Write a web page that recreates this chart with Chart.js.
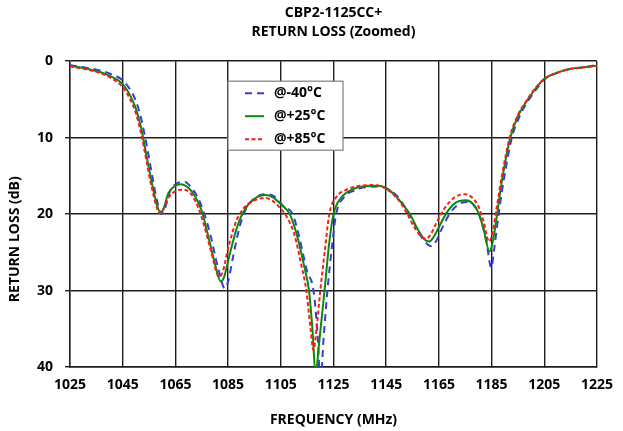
<!DOCTYPE html>
<html>
<head>
<meta charset="utf-8">
<script src="https://cdn.jsdelivr.net/npm/chart.js@4"></script>
<style>
  body { margin: 0; background: #fff; }
  #wrap { width: 623px; height: 431px; }
</style>
</head>
<body>
<div id="wrap"><canvas id="rlChart" width="623" height="431"></canvas></div>
<script>
        // -40°C
        const freqM40 = [1025, 1030, 1035, 1040, 1045, 1048, 1050, 1052, 1054, 1056, 1058, 1059.7, 1061, 1063, 1065.5, 1068.5, 1071, 1073.5, 1076, 1078.5, 1081, 1083.8, 1085, 1087, 1089.5, 1092, 1096, 1099.7, 1103, 1106, 1109.5, 1112, 1115, 1117.4, 1119, 1120, 1121.3, 1122.7, 1124.5, 1126, 1129, 1133, 1137, 1142.3, 1146, 1149, 1152, 1155, 1158, 1160.5, 1162.2, 1164, 1166, 1169, 1172.5, 1176.5, 1179, 1181, 1183, 1184.9, 1186, 1187.7, 1189.5, 1192.7, 1195.5, 1198.5, 1201.5, 1205, 1210, 1215, 1220, 1225];
        const lossM40 = [0.5, 0.8, 1.1, 1.6, 2.5, 3.8, 5.2, 7.5, 10.8, 14.6, 18.2, 20.0, 19.3, 17.0, 16.0, 15.8, 16.5, 17.8, 20.0, 23.0, 26.8, 29.7, 28.8, 25.4, 21.5, 19.2, 17.7, 17.4, 17.8, 19.0, 20.0, 23.0, 27.5, 30.0, 36.0, 42.0, 36.0, 30.0, 24.0, 20.0, 17.8, 16.9, 16.5, 16.4, 16.8, 17.6, 19.0, 20.8, 22.8, 23.9, 24.2, 23.5, 22.0, 20.0, 18.7, 18.4, 19.2, 20.8, 23.6, 27.0, 24.5, 20.0, 15.8, 10.0, 7.3, 5.4, 3.9, 2.4, 1.5, 1.0, 0.8, 0.5];

        // +25°C
        const freqP25 = [1025, 1030, 1035, 1040, 1045, 1048, 1050, 1052, 1054, 1056, 1058, 1059.3, 1060.5, 1062.3, 1064.5, 1067, 1070, 1072.5, 1075, 1077.2, 1079.8, 1082.2, 1083.5, 1085.5, 1088.5, 1091, 1095, 1099, 1102, 1105, 1108.4, 1111, 1114, 1115.7, 1117, 1118.2, 1119.5, 1121.6, 1123.3, 1125, 1128, 1132, 1136, 1141.5, 1145, 1148, 1151, 1154, 1157, 1159.5, 1161.3, 1163, 1165, 1168, 1171, 1175.3, 1178, 1180, 1182, 1184.2, 1185.5, 1187.1, 1189, 1192.1, 1195, 1198, 1201, 1205, 1210, 1215, 1220, 1225];
        const lossP25 = [0.6, 0.9, 1.3, 1.9, 3.0, 4.6, 6.2, 8.7, 12.3, 15.8, 18.8, 19.8, 19.3, 17.3, 16.4, 16.1, 16.6, 17.7, 19.6, 22.5, 26.2, 28.8, 28.2, 25.4, 21.6, 19.6, 18.0, 17.5, 17.8, 18.7, 20.0, 22.6, 27.0, 30.0, 35.0, 41.0, 37.0, 30.0, 24.0, 20.0, 17.8, 16.8, 16.4, 16.3, 16.6, 17.4, 18.6, 20.0, 22.0, 23.3, 23.6, 23.0, 21.7, 19.8, 18.6, 18.2, 18.7, 19.8, 22.0, 24.9, 23.5, 20.0, 15.5, 10.0, 7.2, 5.4, 3.9, 2.3, 1.5, 1.0, 0.8, 0.6];

        // +85°C
        const freqP85 = [1025, 1030, 1035, 1040, 1045, 1048, 1050, 1052, 1054, 1056, 1058, 1059, 1060.5, 1062.5, 1065, 1068, 1071, 1073.5, 1076, 1078.5, 1081.6, 1083, 1085, 1088, 1091, 1095, 1099, 1102, 1105, 1107, 1110, 1113, 1114.7, 1116.3, 1117.4, 1118.7, 1120, 1121.8, 1123.4, 1126, 1130, 1135, 1140.5, 1144, 1147, 1150, 1153, 1156, 1158.5, 1160.3, 1162, 1164, 1167, 1171, 1175, 1177.5, 1180, 1182, 1184, 1185.3, 1187, 1189, 1192, 1195, 1198, 1201, 1205, 1210, 1215, 1220, 1225];
        const lossP85 = [0.7, 1.0, 1.4, 2.1, 3.4, 5.1, 6.8, 9.5, 13.0, 16.5, 19.2, 19.9, 19.3, 17.8, 17.0, 16.8, 17.4, 19.0, 21.6, 24.8, 28.2, 27.5, 24.5, 21.0, 19.2, 18.2, 17.9, 18.3, 19.3, 20.2, 22.5, 27.0, 30.0, 35.0, 37.8, 34.5, 30.0, 24.5, 20.0, 17.8, 16.8, 16.3, 16.2, 16.5, 17.2, 18.3, 20.0, 21.9, 23.0, 23.2, 22.6, 21.2, 19.3, 17.8, 17.4, 17.8, 19.0, 21.0, 23.6, 22.5, 19.0, 14.8, 9.8, 7.0, 5.3, 3.8, 2.3, 1.5, 1.0, 0.8, 0.6];

        const seriesNames = ['@-40°C', '@+25°C', '@+85°C'];
        const seriesColors = ['#3b3bdb', '#0a8a0a', '#ff1a1a'];
        const seriesDash = [[7, 5], [], [4, 2.5]];

        const xTicks = [1025, 1045, 1065, 1085, 1105, 1125, 1145, 1165, 1185, 1205, 1225];
        const yTicks = [0, 10, 20, 30, 40];

        const FONT = '"Open Sans", "Noto Sans", sans-serif';

        function toPoints(xs, ys) {
            return xs.map((x, i) => ({ x: x, y: ys[i] }));
        }

        // legend box inside the plot + y axis title (sits a bit low in the original)
        const boxLegend = {
            id: 'boxLegend',
            afterDraw(chart) {
                const ctx = chart.ctx;
                const area = chart.chartArea;
                const left = area.left + 158;
                const top = area.top + 20;
                const w = 115, h = 69;
                ctx.save();
                ctx.fillStyle = '#fff';
                ctx.fillRect(left, top, w, h);
                ctx.strokeStyle = '#7f7f7f';
                ctx.lineWidth = 1.2;
                ctx.strokeRect(left, top, w, h);
                ctx.font = 'bold 14px ' + FONT;
                ctx.textBaseline = 'middle';
                seriesNames.forEach((name, i) => {
                    const y = top + 12 + i * 23;
                    ctx.beginPath();
                    ctx.strokeStyle = seriesColors[i];
                    ctx.lineWidth = 2;
                    ctx.setLineDash(seriesDash[i]);
                    ctx.moveTo(left + 17, y);
                    ctx.lineTo(left + 36, y);
                    ctx.stroke();
                    ctx.setLineDash([]);
                    ctx.fillStyle = '#000';
                    ctx.fillText(name, left + 46, y);
                });

                ctx.translate(15, area.top + 178);
                ctx.rotate(-Math.PI / 2);
                ctx.textAlign = 'center';
                ctx.font = 'bold 14px ' + FONT;
                ctx.fillText('RETURN LOSS (dB)', 0, 0);
                ctx.restore();
            }
        };

        const ctx = document.getElementById('rlChart').getContext('2d');
        const rlChart = new Chart(ctx, {
            type: 'line',
            data: {
                datasets: [
                    { label: seriesNames[0], data: toPoints(freqM40, lossM40), borderColor: seriesColors[0], borderDash: seriesDash[0], order: 2 },
                    { label: seriesNames[1], data: toPoints(freqP25, lossP25), borderColor: seriesColors[1], borderDash: seriesDash[1], order: 1 },
                    { label: seriesNames[2], data: toPoints(freqP85, lossP85), borderColor: seriesColors[2], borderDash: seriesDash[2], order: 0 }
                ]
            },
            options: {
                responsive: false,
                animation: false,
                layout: { padding: { left: 0, right: 19, top: 0, bottom: 0 } },
                elements: {
                    point: { radius: 0 },
                    line: { borderWidth: 2, fill: false, cubicInterpolationMode: 'monotone' }
                },
                plugins: {
                    legend: { display: false },
                    tooltip: { enabled: false },
                    title: {
                        display: true,
                        fullSize: false,
                        text: ['CBP2-1125CC+', 'RETURN LOSS (Zoomed)'],
                        color: '#000',
                        font: { family: FONT, size: 14, weight: 'bold', lineHeight: 1.4 },
                        padding: { top: 3, bottom: 19 }
                    }
                },
                scales: {
                    x: {
                        type: 'linear',
                        min: 1025,
                        max: 1225,
                        afterBuildTicks: s => { s.ticks = xTicks.map(v => ({ value: v })); },
                        afterFit: s => { s.height = 64; },
                        ticks: {
                            color: '#000',
                            padding: 10,
                            maxRotation: 0,
                            font: { family: FONT, size: 14, weight: 'bold' },
                            callback: v => String(v)
                        },
                        grid: { color: '#1e1e1e', lineWidth: 1.4, tickLength: 0 },
                        border: { color: '#1e1e1e', width: 1.4 },
                        title: {
                            display: true,
                            text: 'FREQUENCY (MHz)',
                            color: '#000',
                            font: { family: FONT, size: 14, weight: 'bold' },
                            padding: { top: 4, bottom: 3 }
                        }
                    },
                    y: {
                        reverse: true,
                        min: 0,
                        max: 40,
                        afterBuildTicks: s => { s.ticks = yTicks.map(v => ({ value: v })); },
                        afterFit: s => { s.width = 70; },
                        ticks: {
                            color: '#000',
                            padding: 12,
                            font: { family: FONT, size: 14, weight: 'bold' },
                            callback: v => String(v)
                        },
                        grid: { color: '#1e1e1e', lineWidth: 1.4, tickLength: 5 },
                        border: { color: '#1e1e1e', width: 1.4 }
                    }
                }
            },
            plugins: [boxLegend]
        });
</script>
</body>
</html>
